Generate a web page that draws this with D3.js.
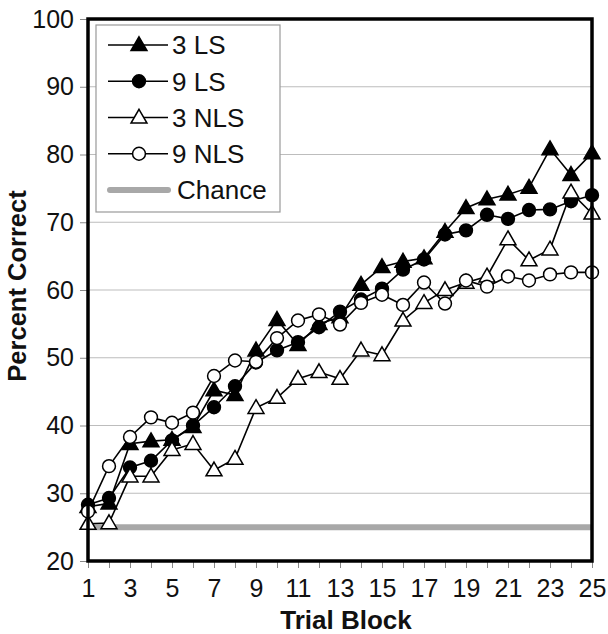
<!DOCTYPE html>
<html>
<head>
<meta charset="utf-8">
<script src="https://cdn.jsdelivr.net/npm/d3@7"></script>
<style>
  html, body { margin: 0; padding: 0; background: #fff; }
  svg { display: block; font-family: "Liberation Sans", Arial, sans-serif; }
</style>
</head>
<body>
<svg id="chart" width="608" height="634"></svg>
<script>
const blocks = d3.range(1, 26);
const yTicks = [20, 30, 40, 50, 60, 70, 80, 90, 100];
const xTickLabels = [1, 3, 5, 7, 9, 11, 13, 15, 17, 19, 21, 23, 25];
const chance = 25;

const ls3  = [28.0, 28.5, 37.3, 37.7, 37.9, 39.8, 45.2, 44.5, 51.1, 55.6, 51.9, 55.0, 56.0, 60.8, 63.4, 64.2, 64.7, 68.6, 72.1, 73.4, 74.1, 75.1, 80.8, 77.0, 80.2];
const ls9  = [28.3, 29.3, 33.8, 34.8, 37.8, 40.0, 42.7, 45.8, 49.3, 51.1, 52.3, 54.5, 56.8, 58.6, 60.2, 63.0, 64.5, 68.2, 68.8, 71.1, 70.5, 71.8, 71.9, 73.1, 74.0];
const nls3 = [25.5, 25.6, 32.5, 32.5, 36.4, 37.3, 33.4, 35.1, 42.6, 44.1, 46.9, 47.9, 46.9, 51.1, 50.4, 55.5, 58.1, 60.0, 61.1, 62.0, 67.5, 64.4, 66.0, 74.4, 71.3];
const nls9 = [27.3, 34.0, 38.3, 41.2, 40.4, 41.9, 47.3, 49.6, 49.4, 52.9, 55.5, 56.4, 54.9, 58.1, 59.3, 57.8, 61.1, 58.0, 61.4, 60.5, 62.0, 61.4, 62.3, 62.6, 62.6];

const seriesNames = ["3 LS", "9 LS", "3 NLS", "9 NLS"];
const seriesValues = [ls3, ls9, nls3, nls9];
const seriesShape = ["triangle", "circle", "triangle", "circle"];
const seriesFill = ["#000", "#000", "#fff", "#fff"];

const svg = d3.select("#chart");
const L = 88, R = 592, T = 19, B = 561;
const x = d3.scaleLinear().domain([1, 25]).range([L, R]);
const y = d3.scaleLinear().domain([20, 100]).range([B, T]);

// gridlines
svg.append("g").selectAll("line").data(yTicks.filter(v => v > 20 && v < 100)).join("line")
  .attr("x1", L).attr("x2", R).attr("y1", d => y(d)).attr("y2", d => y(d))
  .attr("stroke", "#bdbdbd").attr("stroke-width", 1.2);

// y axis
const yAxis = d3.axisLeft(y).tickValues(yTicks).tickSize(8).tickPadding(6);
const gy = svg.append("g").attr("transform", `translate(${L},0)`).call(yAxis);
gy.select(".domain").remove();
gy.selectAll(".tick line").attr("stroke", "#888");
gy.selectAll(".tick text").attr("font-size", 25).attr("fill", "#111").attr("font-family", "Liberation Sans, Arial, sans-serif");

// x axis
const xAxis = d3.axisBottom(x).tickValues(blocks).tickSize(7).tickPadding(11)
  .tickFormat(d => xTickLabels.includes(d) ? d : "");
const gx = svg.append("g").attr("transform", `translate(0,${B})`).call(xAxis);
gx.select(".domain").remove();
gx.selectAll(".tick line").attr("stroke", "#888");
gx.selectAll(".tick text").attr("font-size", 25).attr("fill", "#111").attr("font-family", "Liberation Sans, Arial, sans-serif");

// chance line
svg.append("line").attr("x1", L).attr("x2", R).attr("y1", y(chance)).attr("y2", y(chance))
  .attr("stroke", "#a8a8a8").attr("stroke-width", 6);

// series
const triangle = d3.symbol().type(d3.symbolTriangle).size(110);
const circle = d3.symbol().type(d3.symbolCircle).size(130);
const line = d3.line().x((d, i) => x(blocks[i])).y(d => y(d));

seriesValues.forEach((vals, si) => {
  const g = svg.append("g");
  g.append("path").attr("d", line(vals)).attr("fill", "none").attr("stroke", "#000").attr("stroke-width", 1.6);
  g.selectAll("path.m").data(vals).join("path").attr("class", "m")
    .attr("d", seriesShape[si] === "triangle" ? triangle() : circle())
    .attr("transform", (d, i) => `translate(${x(blocks[i])},${y(d) + (seriesShape[si] === "triangle" ? 1 : 0)})`)
    .attr("fill", seriesFill[si]).attr("stroke", "#000").attr("stroke-width", 1.5);
});

// frame
svg.append("rect").attr("x", L).attr("y", T).attr("width", R - L).attr("height", B - T)
  .attr("fill", "none").attr("stroke", "#000").attr("stroke-width", 3.5);

// legend
const lg = svg.append("g");
lg.append("rect").attr("x", 96).attr("y", 25).attr("width", 184).attr("height", 187)
  .attr("fill", "#fff").attr("stroke", "#999").attr("stroke-width", 1.2);
const legendNames = seriesNames.concat(["Chance"]);
const rowY = d3.scaleLinear().domain([0, 4]).range([45, 190]);
legendNames.forEach((name, i) => {
  const cy = rowY(i);
  if (i < 4) {
    lg.append("line").attr("x1", 108).attr("x2", 168).attr("y1", cy).attr("y2", cy)
      .attr("stroke", "#000").attr("stroke-width", 1.6);
    lg.append("path").attr("d", seriesShape[i] === "triangle" ? triangle() : circle())
      .attr("transform", `translate(139,${cy + (seriesShape[i] === "triangle" ? 1 : 0)})`)
      .attr("fill", seriesFill[i]).attr("stroke", "#000").attr("stroke-width", 1.5);
  } else {
    lg.append("line").attr("x1", 110).attr("x2", 168).attr("y1", cy).attr("y2", cy)
      .attr("stroke", "#a8a8a8").attr("stroke-width", 6).attr("stroke-linecap", "round");
  }
  lg.append("text").attr("x", i < 4 ? 172 : 177).attr("y", cy).attr("dy", "0.36em")
    .attr("font-size", 26).attr("fill", "#111").text(name);
});

// axis titles
svg.append("text").attr("x", 346).attr("y", 629).attr("text-anchor", "middle")
  .attr("font-size", 26).attr("font-weight", "bold").attr("fill", "#111").text("Trial Block");
svg.append("text").attr("transform", `translate(26,286) rotate(-90)`)
  .attr("text-anchor", "middle").attr("font-size", 25.5).attr("font-weight", "bold").attr("fill", "#111")
  .text("Percent Correct");
</script>
</body>
</html>
